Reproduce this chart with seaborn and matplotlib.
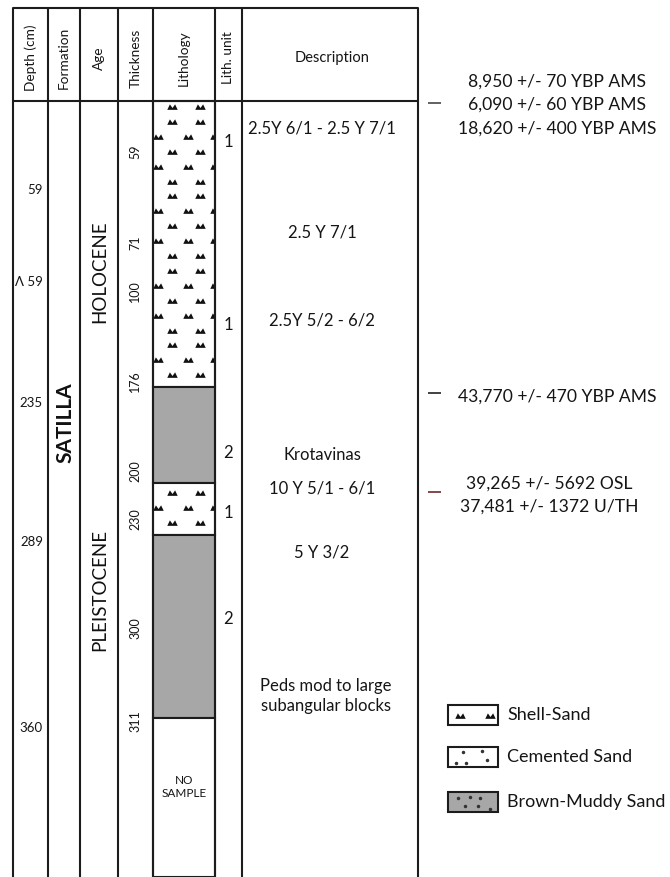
import numpy as np
import matplotlib
matplotlib.use("Agg")
import matplotlib.pyplot as plt
import seaborn as sns
from matplotlib.path import Path
from matplotlib.patches import Rectangle

sns.set_style("white")
plt.rcParams['font.family'] = ['Lato', 'DejaVu Sans']

# ---------------- data ----------------
headers = ["Depth (cm)", "Formation", "Age", "Thickness", "Lithology", "Lith. unit", "Description"]

depth_labels = ["59", "\u039b 59", "235", "289", "360"]
depth_label_y = [190, 282, 403, 542, 728]

thickness_labels = ["59", "71", "100", "176", "200", "230", "300", "311"]
thickness_y = [152, 243, 291, 381, 471, 519, 628, 721]

lith_top = [101, 387, 483, 535, 718]
lith_bottom = [387, 483, 535, 718, 877]
lith_type = ["Shell-Sand", "Brown-Muddy Sand", "Shell-Sand", "Brown-Muddy Sand", "No sample"]

unit_labels = ["1", "1", "2", "1", "2"]
unit_y = [142, 325, 453, 513, 619]

desc_lines = ["2.5Y 6/1 - 2.5 Y 7/1", "2.5 Y 7/1", "2.5Y 5/2 - 6/2", "Krotavinas",
              "10 Y 5/1 - 6/1", "5 Y 3/2", "Peds mod to large\nsubangular blocks"]
desc_y = [129, 233, 320, 455, 489, 553, 696]

age_labels = ["HOLOCENE", "PLEISTOCENE"]
age_y = [272, 590]
formation_label = "SATILLA"
formation_y = 423

date_groups = [["8,950 +/- 70 YBP AMS", "6,090 +/- 60 YBP AMS", "18,620 +/- 400 YBP AMS"],
               ["43,770 +/- 470 YBP AMS"],
               ["39,265 +/- 5692 OSL", "37,481 +/- 1372 U/TH"]]
date_tick_y = [103, 393, 492]
date_center_y = [105, 397, 495]
date_center_x = [557, 557, 549]

legend_labels = ["Shell-Sand", "Cemented Sand", "Brown-Muddy Sand"]

# ---------------- layout ----------------
col_edges = [13, 48, 80, 118, 153, 215, 242, 418]
TOP, HEAD, BOTTOM = 8, 101, 877
LINE = '#1c1c1c'
GRAY = '#a7a7a7'
TXT = '#151515'

fig = plt.figure(figsize=(6.7, 8.77), dpi=100)
ax = fig.add_axes([0, 0, 1, 1])
ax.set_xlim(0, 670)
ax.set_ylim(877, 0)
ax.axis('off')

# shell marker
shell = Path([(-1, -0.45), (-0.5, 0.6), (0.0, -0.1), (0.5, 0.6), (1, -0.45), (-1, -0.45)],
             [Path.MOVETO, Path.LINETO, Path.LINETO, Path.LINETO, Path.LINETO, Path.CLOSEPOLY])

# lithology layers
lx0, lx1 = col_edges[4], col_edges[5]
fills = {"Shell-Sand": "white", "Brown-Muddy Sand": GRAY, "No sample": "white"}
for t, b, kind in zip(lith_top, lith_bottom, lith_type):
    ax.bar((lx0 + lx1) / 2, b - t, bottom=t, width=lx1 - lx0, color=fills[kind],
           edgecolor=LINE, linewidth=1.5, zorder=1)

phases = {101: 0, 483: 1}
seq = "AABAB"
for t, b, kind in zip(lith_top, lith_bottom, lith_type):
    if kind != "Shell-Sand":
        continue
    clip = Rectangle((lx0, t), lx1 - lx0, b - t, transform=ax.transData)
    ph = phases.get(t, 0)
    start = t + 6 if ph == 0 else t + 10
    ys = np.arange(start, b - 6, 14.9 if ph == 0 else 15)
    for i, yy in enumerate(ys):
        kind_row = seq[(i + ph) % 5]
        xs = [172, 200] if kind_row == "A" else [158, 188, 215]
        ln, = ax.plot(xs, [yy] * len(xs), ls='none', marker=shell, ms=7.5,
                      color='#111111', mew=0, zorder=2)
        ln.set_clip_path(clip)

ax.text((lx0 + lx1) / 2, 787, "NO\nSAMPLE", ha='center', va='center', fontsize=8.5,
        color=TXT, linespacing=1.25)

# table lines
for x in col_edges:
    ax.plot([x, x], [TOP, BOTTOM], color=LINE, lw=1.5, solid_capstyle='butt', zorder=3)
ax.plot([col_edges[0], col_edges[-1]], [TOP, TOP], color=LINE, lw=1.5, zorder=3)
ax.plot([col_edges[0], col_edges[-1]], [HEAD, HEAD], color=LINE, lw=1.5, zorder=3)

# headers
for i, h in enumerate(headers[:-1]):
    cx = (col_edges[i] + col_edges[i + 1]) / 2
    ax.text(cx, 58, h, rotation=90, ha='center', va='center', fontsize=9.8, color=TXT)
ax.text((col_edges[6] + col_edges[7]) / 2 + 2, 58, headers[-1], ha='center', va='center',
        fontsize=10.5, color=TXT)

# depth labels
for lab, yy in zip(depth_labels, depth_label_y):
    ax.text(43, yy, lab, ha='right', va='center', fontsize=9.5, color=TXT)

# thickness
for lab, yy in zip(thickness_labels, thickness_y):
    ax.text(135, yy, lab, rotation=90, ha='center', va='center', fontsize=9, color=TXT)

# formation / age
ax.text(65, formation_y, formation_label, rotation=90, ha='center', va='center',
        fontsize=15, fontweight='bold', color='#111')
for lab, yy in zip(age_labels, age_y):
    ax.text(100, yy, lab, rotation=90, ha='center', va='center', fontsize=13.5, color='#111')

# lith units
for lab, yy in zip(unit_labels, unit_y):
    ax.text(228, yy, lab, ha='center', va='center', fontsize=12, color=TXT)

# description
for lab, yy in zip(desc_lines, desc_y):
    cx = 326 if "\n" in lab else 322
    ax.text(cx, yy, lab, ha='center', va='center', fontsize=12, color=TXT, linespacing=1.3)

# dates
tick_colors = ['#555555', '#333333', '#7a3a3a']
for grp, ty, cy, cx, tc in zip(date_groups, date_tick_y, date_center_y, date_center_x, tick_colors):
    ax.plot([428, 441], [ty, ty], color=tc, lw=1.3, solid_capstyle='butt')
    n = len(grp)
    for i, s in enumerate(grp):
        yy = cy + (i - (n - 1) / 2) * 23.5
        ax.text(cx, yy, s, ha='center', va='center', fontsize=12.6, color=TXT)

# legend
box_y = [705, 747, 792]
box_fill = ['white', 'white', GRAY]
for lab, by, fc in zip(legend_labels, box_y, box_fill):
    ax.bar(473, 20, bottom=by, width=50, color=fc, edgecolor=LINE, linewidth=1.5)
    ax.text(507, by + 10, lab, ha='left', va='center', fontsize=13, color=TXT)
ax.plot([460, 490], [box_y[0] + 11, box_y[0] + 11], ls='none', marker=shell, ms=7.5,
        color='#111111', mew=0)
ax.plot([463, 482, 487, 456, 466], [box_y[1] + 5, box_y[1] + 4, box_y[1] + 13, box_y[1] + 16, box_y[1] + 16],
        ls='none', marker='o', ms=1.5, color='#333')
ax.plot([458, 470, 480, 465, 478, 490], [box_y[2] + 6, box_y[2] + 5, box_y[2] + 6, box_y[2] + 14, box_y[2] + 14, box_y[2] + 17],
        ls='none', marker='o', ms=1.5, color='#333')

fig.savefig("out.png", dpi=100)
